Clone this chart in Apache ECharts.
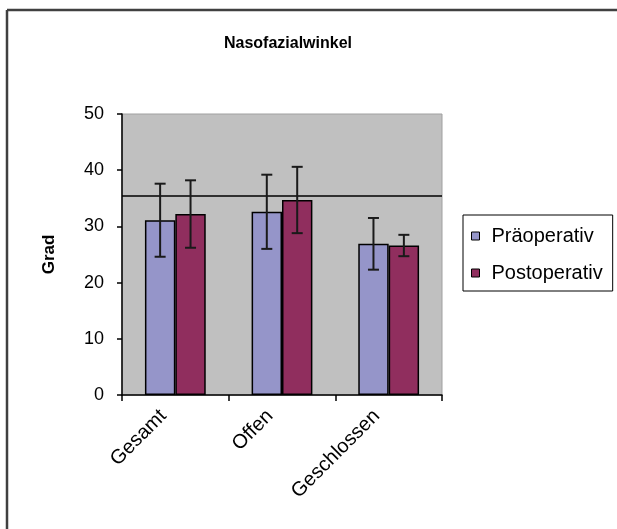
<!DOCTYPE html>
<html>
<head>
<meta charset="utf-8">
<title>Nasofazialwinkel</title>
<script src="https://cdn.jsdelivr.net/npm/echarts@6/dist/echarts.min.js"></script>
<style>
    html, body { margin: 0; padding: 0; background: #fff; }
    #main { width: 617px; height: 529px; }
</style>
</head>
<body>
<div id="main"></div>
<script>
    // Daten (Mittelwert und Standardabweichung)
    var categories = ["Gesamt", "Offen", "Geschlossen"];
    var praeMean = [31.1, 32.6, 26.9];
    var praeSd = [6.5, 6.6, 4.6];
    var postMean = [32.2, 34.7, 26.6];
    var postSd = [6.0, 5.9, 1.9];
    var referenceValue = 35.5;
    var yTicks = [0, 10, 20, 30, 40, 50];

    var FONT = "'Liberation Sans', Arial, sans-serif";
    var CAT_GAP = 0.43; // Lücke zwischen Kategorien

    /**
     * Fehlerbalken-Daten aus Mittelwert und SD
     */
    function errorData(mean, sd) {
        return mean.map(function (m, i) {
            return [i, m - sd[i], m + sd[i]];
        });
    }

    /**
     * Fehlerbalken zeichnen, side = -1 (links) oder 1 (rechts)
     */
    function errorRenderer(side) {
        return function (params, api) {
            var idx = api.value(0);
            var band = api.size([1, 0])[0];
            var barW = band * (1 - CAT_GAP) / 2;
            var lo = api.coord([idx, api.value(1)]);
            var hi = api.coord([idx, api.value(2)]);
            var x = lo[0] + side * barW / 2;
            var cap = 5.5;
            var style = { stroke: "#1a1a1a", lineWidth: 2 };
            return {
                type: "group",
                children: [
                    { type: "line", shape: { x1: x, y1: hi[1], x2: x, y2: lo[1] }, style: style },
                    { type: "line", shape: { x1: x - cap, y1: hi[1], x2: x + cap, y2: hi[1] }, style: style },
                    { type: "line", shape: { x1: x - cap, y1: lo[1], x2: x + cap, y2: lo[1] }, style: style }
                ]
            };
        };
    }

    var chart = echarts.init(document.getElementById("main"));

    var option = {
        animation: false,
        backgroundColor: "#fff",
        title: {
            text: "Nasofazialwinkel",
            left: 283,
            textAlign: "center",
            top: 31,
            textStyle: { fontFamily: FONT, fontSize: 16, fontWeight: "bold", color: "#000" }
        },
        graphic: [
            { type: "line", shape: { x1: 7, y1: 10, x2: 7, y2: 529 }, style: { stroke: "#404040", lineWidth: 2.5 } },
            { type: "line", shape: { x1: 7, y1: 10, x2: 617, y2: 10 }, style: { stroke: "#404040", lineWidth: 2.5 } }
        ],
        legend: {
            orient: "vertical",
            left: 463,
            top: 215,
            padding: [11, 10, 8, 8],
            itemGap: 17,
            itemWidth: 8,
            itemHeight: 8,
            borderColor: "#000",
            borderWidth: 1,
            icon: "rect",
            itemStyle: { borderColor: "#000", borderWidth: 1 },
            data: ["Präoperativ", "Postoperativ"],
            textStyle: { fontFamily: FONT, fontSize: 20, lineHeight: 20, color: "#000", padding: [0, 0, 0, 7] }
        },
        grid: {
            left: 122,
            right: 175,
            top: 114,
            bottom: 134,
            show: true,
            backgroundColor: "#C0C0C0",
            borderColor: "#A0A0A0",
            borderWidth: 1
        },
        xAxis: {
            type: "category",
            data: categories,
            axisLine: { lineStyle: { color: "#000", width: 1.5 } },
            axisTick: { show: true, length: 6, lineStyle: { color: "#000", width: 1.5 } },
            axisLabel: {
                rotate: 45,
                margin: 6,
                padding: [0, 17, 0, 0],
                fontFamily: FONT,
                fontSize: 20,
                color: "#000"
            }
        },
        yAxis: {
            type: "value",
            min: yTicks[0],
            max: yTicks[yTicks.length - 1],
            interval: 10,
            name: "Grad",
            nameLocation: "middle",
            nameRotate: 90,
            nameGap: 64,
            nameTextStyle: { fontFamily: FONT, fontSize: 17, fontWeight: "bold", color: "#000" },
            splitLine: { show: false },
            axisLine: { show: true, lineStyle: { color: "#000", width: 1.5 } },
            axisTick: { show: true, length: 5, lineStyle: { color: "#000", width: 1.5 } },
            axisLabel: { margin: 18, fontFamily: FONT, fontSize: 18, color: "#000" }
        },
        series: [
            {
                name: "Präoperativ",
                type: "bar",
                data: praeMean,
                barGap: "0%",
                barCategoryGap: (CAT_GAP * 100) + "%",
                itemStyle: { color: "#9595C9", borderColor: "#000", borderWidth: 1.5 },
                markLine: {
                    silent: true,
                    symbol: "none",
                    label: { show: false },
                    lineStyle: { color: "#000", type: "solid", width: 1.5 },
                    data: [{ yAxis: referenceValue }]
                }
            },
            {
                name: "Postoperativ",
                type: "bar",
                data: postMean,
                barGap: "0%",
                barCategoryGap: (CAT_GAP * 100) + "%",
                itemStyle: { color: "#902E5E", borderColor: "#000", borderWidth: 1.5 }
            },
            {
                type: "custom",
                renderItem: errorRenderer(-1),
                data: errorData(praeMean, praeSd),
                encode: { x: 0, y: [1, 2] },
                z: 10
            },
            {
                type: "custom",
                renderItem: errorRenderer(1),
                data: errorData(postMean, postSd),
                encode: { x: 0, y: [1, 2] },
                z: 10
            }
        ]
    };

    chart.setOption(option);
</script>
</body>
</html>
